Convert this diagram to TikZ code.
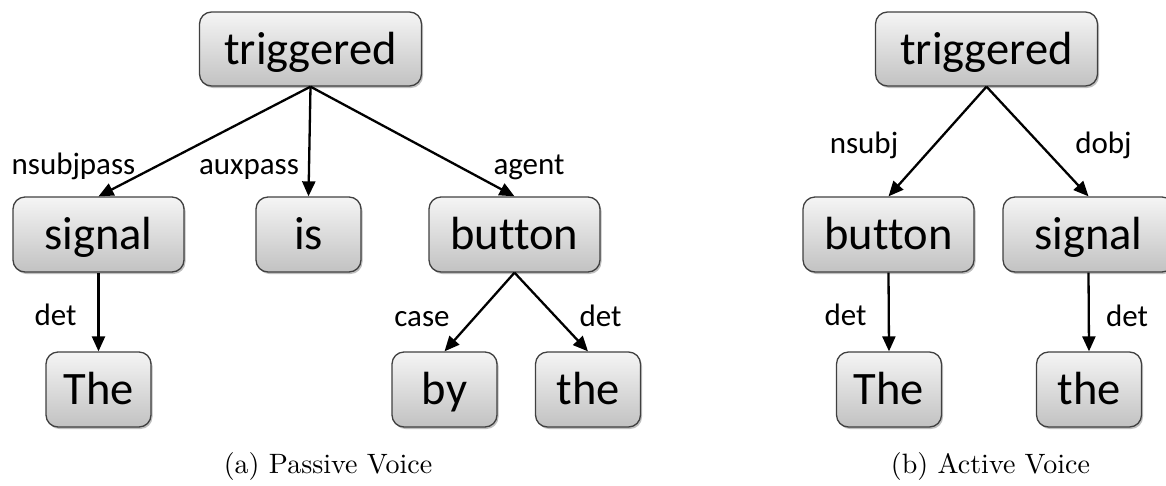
\documentclass[tikz,border=0pt]{standalone}
\usepackage{fontspec}
\newfontfamily\calib{Carlito}[Ligatures={NoCommon}]
\newfontfamily\capfont{lmroman10-regular}[Extension=.otf]
\usetikzlibrary{arrows.meta,shadows}
\tikzset{
  word/.style={draw=black!75, line width=1.3pt, rounded corners=12pt,
    top color=black!4, bottom color=black!24, inner sep=0pt,
    minimum height=75pt, font=\calib\fontsize{46.5}{50}\selectfont,
    text height=34pt, text depth=4pt,
    drop shadow={shadow xshift=1.5pt, shadow yshift=-2pt, opacity=0.25, fill=black}},
  wide/.style={word, minimum width=171pt},
  narrow/.style={word, minimum width=105pt},
  root/.style={word, minimum width=222pt, minimum height=74pt},
  dep/.style={-{Triangle[length=15pt,width=13pt]}, line width=2.3pt},
  rel/.style={font=\calib\fontsize{31}{34}\selectfont, anchor=base, inner sep=0pt},
  figcap/.style={font=\capfont\fontsize{28}{34}\selectfont, anchor=base, inner sep=0pt},
}
\begin{document}
\begin{tikzpicture}[x=1pt,y=-1pt]
  \useasboundingbox (0,0) rectangle (1166,485);
  \clip (0,0) rectangle (1166,485);

  % (a) passive voice tree
  \node[root]   (pTrig)   at (310.5,49)   {triggered};
  \node[wide]   (pSignal) at (98.5,234.5) {signal};
  \node[narrow] (pIs)     at (308.5,234.5){is};
  \node[wide]   (pButton) at (514.5,234.5){button};
  \node[narrow] (pThe)    at (98.5,389.5) {The};
  \node[narrow] (pBy)     at (444.5,389.5){by};
  \node[narrow] (pthe)    at (588,389.5)  {the};

  \draw[dep] (pTrig.south) -- (pSignal.north);
  \draw[dep] (pTrig.south) -- (pIs.north);
  \draw[dep] (pTrig.south) -- (pButton.north);
  \draw[dep] (pSignal.south) -- (pThe.north);
  \draw[dep] (pButton.south) -- (pBy.north);
  \draw[dep] (pButton.south) -- (pthe.north);

  \node[rel] (lNsubjpass) at (73.5,174) {nsubjpass};
  \node[rel] (lAuxpass)   at (249,174)  {auxpass};
  \node[rel] (lAgent)     at (529,174)  {agent};
  \node[rel] (lDetA)      at (55.5,325) {det};
  \node[rel] (lCase)      at (422,326)  {case};
  \node[rel] (lDetB)      at (600.5,326){det};

  \node[figcap] (capA) at (328,473) {(a) Passive Voice};

  % (b) active voice tree
  \node[root]   (aTrig)   at (986.5,49)    {triggered};
  \node[wide]   (aButton) at (888.5,234.5) {button};
  \node[wide]   (aSignal) at (1088.5,234.5){signal};
  \node[narrow] (aThe)    at (889,389.5)   {The};
  \node[narrow] (athe)    at (1089,389.5)  {the};

  \draw[dep] (aTrig.south) -- (aButton.north);
  \draw[dep] (aTrig.south) -- (aSignal.north);
  \draw[dep] (aButton.south) -- (aThe.north);
  \draw[dep] (aSignal.south) -- (athe.north);

  \node[rel] (lNsubj) at (864,153)   {nsubj};
  \node[rel] (lDobj)  at (1103.5,153){dobj};
  \node[rel] (lDetC)  at (845.5,325) {det};
  \node[rel] (lDetD)  at (1127,326)  {det};

  \node[figcap] (capB) at (990.5,473) {(b) Active Voice};
\end{tikzpicture}
\end{document}
